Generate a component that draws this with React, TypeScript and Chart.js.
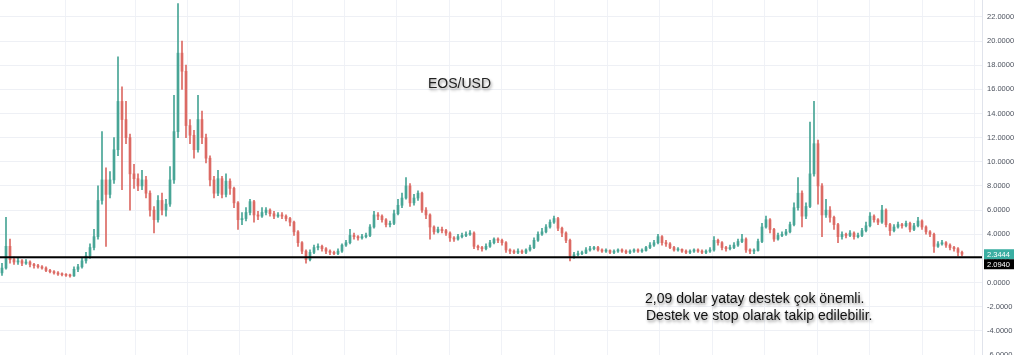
import React, { useEffect, useRef } from "react";
import { Chart, registerables } from "chart.js";

Chart.register(...registerables);

// ---- data (EOS/USD, one candle ≈ a few days) ----
const firstOpen = 0.8;
const closes = [
  1.2, 3.0, 1.9, 1.7, 1.8, 1.6, 1.7, 1.5, 1.4, 1.3,
  1.2, 1.0, 0.9, 0.8, 0.7, 0.65, 0.6, 0.55, 1.1, 1.3,
  1.8, 2.2, 2.9, 3.8, 6.8, 8.5, 7.3, 8.5, 11.0, 15.0,
  13.5, 12.0, 9.0, 8.6, 8.0, 8.5, 7.4, 6.0, 5.2, 6.8,
  6.0, 6.5, 8.5, 12.5, 19.0, 17.5, 13.0, 12.2, 11.0, 13.5,
  12.0, 10.3, 8.5, 7.4, 8.6, 7.3, 8.4, 7.8, 6.6, 5.2,
  5.3, 5.8, 6.7, 5.6, 5.5, 5.8, 6.0, 5.7, 5.5, 5.6,
  5.5, 5.3, 5.0, 4.2, 3.3, 2.6, 1.9, 2.5, 2.9, 3.0,
  2.8, 2.6, 2.5, 2.4, 2.6, 3.1, 3.3, 3.9, 3.8, 3.7,
  3.8, 3.9, 4.6, 5.6, 5.5, 5.2, 4.8, 4.9, 5.7, 6.4,
  7.0, 8.0, 6.6, 7.0, 7.4, 6.0, 5.6, 4.6, 4.2, 4.4,
  4.3, 4.1, 3.7, 3.6, 3.8, 3.9, 4.0, 4.1, 3.0, 2.9,
  2.8, 3.0, 3.3, 3.6, 3.5, 3.3, 2.7, 2.6, 2.5, 2.6,
  2.5, 2.7, 2.9, 3.5, 4.0, 4.2, 4.6, 5.0, 5.3, 4.5,
  4.1, 3.5, 2.2, 2.3, 2.4, 2.45, 2.7, 2.8, 2.9, 2.7,
  2.6, 2.65, 2.5, 2.6, 2.7, 2.6, 2.5, 2.6, 2.7, 2.6,
  2.65, 2.9, 3.1, 3.3, 3.8, 3.3, 3.2, 2.9, 2.7, 2.75,
  2.6, 2.5, 2.6, 2.7, 2.6, 2.5, 2.6, 2.7, 3.5, 3.3,
  2.9, 2.8, 2.9, 3.1, 3.4, 3.6, 2.7, 2.6, 2.65, 3.4,
  4.6, 5.2, 4.4, 3.6, 3.9, 4.0, 4.2, 4.8, 6.2, 7.4,
  5.5, 6.3, 9.0, 11.5, 8.0, 5.6, 6.0, 5.4, 4.8, 3.8,
  4.0, 3.9, 4.1, 3.8, 3.9, 4.3, 4.7, 5.5, 5.2, 5.0,
  6.0, 4.8, 4.3, 4.6, 4.8, 4.7, 4.9, 4.4, 4.7, 5.1,
  4.6, 4.2, 4.0, 3.0, 3.2, 3.3, 3.1, 2.9, 2.8, 2.5, 2.3444,
];
const highs = [
  1.6, 5.4, 3.6, 2.1, 2.0, 1.9, 1.9, 1.8, 1.6, 1.5,
  1.4, 1.3, 1.1, 1.0, 0.9, 0.8, 0.75, 0.7, 1.3, 1.5,
  2.0, 2.5, 3.2, 4.4, 8.0, 12.5, 9.5, 9.2, 12.0, 18.7,
  16.2, 15.0, 12.3, 9.8, 9.0, 9.3, 8.8, 7.6, 6.3, 7.2,
  7.4, 6.9, 9.6, 15.5, 23.1, 20.0, 18.0, 13.5, 12.6, 15.5,
  14.2, 12.3, 10.5, 8.8, 9.3, 8.8, 9.0, 8.6, 7.9, 6.7,
  5.8, 6.2, 6.9, 6.8, 5.9, 6.2, 6.2, 6.1, 5.9, 5.8,
  5.8, 5.6, 5.4, 5.1, 4.3, 3.4, 2.7, 2.7, 3.1, 3.2,
  3.1, 2.9, 2.7, 2.6, 2.8, 3.2, 3.5, 4.4, 4.1, 3.9,
  4.0, 4.1, 4.8, 5.9, 5.8, 5.6, 5.3, 5.1, 6.0, 6.9,
  7.4, 8.7, 8.2, 7.3, 7.6, 7.5, 6.2, 5.7, 4.7, 4.6,
  4.6, 4.4, 4.2, 3.8, 4.0, 4.1, 4.2, 4.3, 4.2, 3.1,
  3.0, 3.2, 3.5, 3.7, 3.7, 3.6, 3.4, 2.8, 2.7, 2.8,
  2.7, 2.8, 3.1, 3.7, 4.2, 4.5, 4.8, 5.2, 5.5, 5.4,
  4.6, 4.2, 3.6, 2.5, 2.6, 2.6, 2.9, 3.0, 3.0, 3.0,
  2.8, 2.8, 2.7, 2.7, 2.8, 2.8, 2.7, 2.7, 2.8, 2.8,
  2.8, 3.0, 3.3, 3.5, 4.0, 3.9, 3.5, 3.3, 3.0, 2.9,
  2.8, 2.7, 2.7, 2.8, 2.8, 2.7, 2.7, 2.9, 3.8, 3.6,
  3.4, 3.0, 3.1, 3.3, 3.6, 4.0, 3.7, 2.8, 2.8, 3.6,
  4.9, 5.5, 5.3, 4.5, 4.1, 4.2, 4.4, 5.0, 6.6, 8.7,
  7.6, 6.6, 13.3, 15.0, 11.8, 8.2, 6.9, 6.3, 5.5, 4.9,
  4.2, 4.1, 4.3, 4.2, 4.1, 4.5, 5.0, 5.8, 5.6, 5.3,
  6.4, 6.1, 4.9, 4.8, 5.0, 4.9, 5.1, 5.0, 4.9, 5.4,
  5.2, 4.7, 4.3, 4.1, 3.4, 3.5, 3.4, 3.2, 3.0, 2.9, 2.6,
];
const lows = [
  0.6, 1.1, 1.6, 1.5, 1.5, 1.4, 1.5, 1.3, 1.2, 1.2,
  1.1, 0.9, 0.8, 0.7, 0.6, 0.55, 0.5, 0.45, 0.5, 0.9,
  1.2, 1.6, 2.0, 2.7, 3.6, 6.5, 3.0, 7.0, 8.2, 10.5,
  7.7, 11.5, 6.0, 7.8, 7.6, 7.7, 7.0, 5.5, 4.1, 5.0,
  5.6, 5.5, 6.3, 8.2, 12.0, 16.0, 12.0, 11.5, 10.3, 10.8,
  11.5, 9.9, 8.0, 7.0, 7.2, 7.0, 7.1, 7.3, 6.2, 4.4,
  4.8, 5.1, 5.6, 5.0, 5.2, 5.4, 5.6, 5.5, 5.3, 5.4,
  5.3, 5.1, 4.7, 3.9, 3.0, 2.4, 1.6, 1.8, 2.4, 2.7,
  2.6, 2.4, 2.3, 2.3, 2.3, 2.5, 3.0, 3.2, 3.6, 3.5,
  3.6, 3.7, 3.8, 4.5, 5.2, 5.0, 4.6, 4.6, 4.8, 5.6,
  6.2, 6.9, 6.3, 6.4, 6.8, 5.8, 5.3, 3.6, 4.0, 4.1,
  4.1, 3.9, 3.4, 3.4, 3.5, 3.7, 3.8, 3.9, 2.8, 2.7,
  2.6, 2.7, 2.9, 3.2, 3.3, 3.1, 2.5, 2.4, 2.4, 2.4,
  2.4, 2.4, 2.6, 2.8, 3.4, 3.9, 4.1, 4.5, 4.9, 4.3,
  3.8, 3.3, 1.8, 2.0, 2.2, 2.3, 2.4, 2.6, 2.7, 2.6,
  2.5, 2.5, 2.4, 2.4, 2.5, 2.5, 2.4, 2.4, 2.5, 2.5,
  2.5, 2.6, 2.8, 3.0, 3.2, 3.1, 3.0, 2.8, 2.6, 2.6,
  2.5, 2.4, 2.4, 2.5, 2.5, 2.4, 2.4, 2.5, 2.6, 3.1,
  2.7, 2.6, 2.7, 2.8, 3.0, 3.3, 2.5, 2.4, 2.4, 2.6,
  3.3, 4.5, 4.1, 3.4, 3.5, 3.8, 3.9, 4.1, 4.7, 6.0,
  4.6, 5.3, 6.2, 8.8, 6.5, 3.8, 5.4, 5.0, 4.4, 3.3,
  3.6, 3.7, 3.8, 3.6, 3.7, 3.8, 4.2, 4.6, 5.0, 4.8,
  4.9, 4.6, 3.9, 4.2, 4.5, 4.5, 4.6, 4.2, 4.3, 4.6,
  4.4, 4.0, 3.8, 2.5, 2.9, 3.1, 2.9, 2.7, 2.6, 2.2, 2.2,
];
const yTicks = [-6, -4, -2, 0, 2, 4, 6, 8, 10, 12, 14, 16, 18, 20, 22];
const supportLevel = 2.094;
const lastPrice = 2.3444;
const titleText = "EOS/USD";
const noteLines = [
  "2,09 dolar yatay destek çok önemli.",
  "Destek ve stop olarak takip edilebilir.",
];
// vertical grid positions, in candle-index units
const gridMarks = [5, 26.75, 39.75, 52.75, 66, 79.25, 92, 105.25, 118.25, 131.5, 144.75, 157.75, 171, 184, 197.25, 210.25, 223.5, 236.5];

const UP = "#48a596";
const DOWN = "#dc6a64";
const FONT = "'Liberation Sans', Arial, sans-serif";

export default function App() {
  const ref = useRef<HTMLCanvasElement | null>(null);

  useEffect(() => {
    if (!ref.current) return;
    const opens = closes.map((c, i) => (i === 0 ? firstOpen : closes[i - 1]));
    const colorOf = (i: number) => (closes[i] >= opens[i] ? UP : DOWN);

    const priceTags = {
      id: "priceTags",
      afterDraw(chart: any) {
        const ctx = chart.ctx;
        const y = chart.scales.y;
        const x0 = chart.chartArea.right + 2;
        const w = 30;
        const h = 10;
        const yc = y.getPixelForValue(lastPrice);
        ctx.save();
        ctx.fillStyle = "#3aaea2";
        ctx.fillRect(x0, yc - h / 2, w, h);
        ctx.fillStyle = "#000";
        ctx.fillRect(x0, yc + h / 2, w, h);
        ctx.fillStyle = "#fff";
        ctx.font = `7.5px ${FONT}`;
        ctx.textBaseline = "middle";
        ctx.textAlign = "left";
        ctx.fillText(lastPrice.toFixed(4), x0 + 3, yc + 0.5);
        ctx.fillText(supportLevel.toFixed(4), x0 + 3, yc + h + 0.5);
        ctx.restore();
      },
    };

    const chart = new Chart(ref.current, {
      type: "bar",
      data: {
        datasets: [
          {
            type: "line",
            data: [
              { x: -0.5, y: supportLevel },
              { x: 246, y: supportLevel },
            ],
            borderColor: "#000",
            borderWidth: 2,
            pointRadius: 0,
            order: -1,
          } as any,
          {
            type: "bar",
            data: closes.map((c, i) => ({ x: i, y: [opens[i], c] })),
            backgroundColor: (ctx: any) => colorOf(ctx.dataIndex),
            barThickness: 2,
            grouped: false,
            minBarLength: 1,
            borderWidth: 0,
          } as any,
          {
            type: "bar",
            data: closes.map((_, i) => ({ x: i, y: [lows[i], highs[i]] })),
            backgroundColor: (ctx: any) => colorOf(ctx.dataIndex),
            barThickness: 1,
            grouped: false,
            borderWidth: 0,
          } as any,
        ],
      },
      options: {
        animation: false,
        responsive: false,
        maintainAspectRatio: false,
        layout: { padding: 0 },
        plugins: { legend: { display: false }, tooltip: { enabled: false } },
        scales: {
          x: {
            type: "linear",
            min: -0.5,
            max: 245,
            offset: false,
            grid: { color: "#f0f2f7", drawTicks: false, lineWidth: 1 },
            border: { display: false },
            ticks: { display: false },
            afterBuildTicks: (s: any) => {
              s.ticks = gridMarks.map((v) => ({ value: v }));
            },
            afterFit: (s: any) => {
              s.height = 0;
              s.paddingLeft = 0;
              s.paddingRight = 0;
            },
          },
          y: {
            type: "linear",
            position: "right",
            min: -6,
            max: 23.4,
            grid: { color: "#eef0f5", drawTicks: false },
            border: { display: true, color: "#e0e3eb" },
            ticks: {
              padding: 5,
              color: "#4c525e",
              font: { family: FONT, size: 7.5 },
              callback: (v: any) => Number(v).toFixed(4),
            },
            afterBuildTicks: (s: any) => {
              s.ticks = yTicks.map((v) => ({ value: v }));
            },
            afterFit: (s: any) => {
              s.width = 42;
              s.paddingTop = 0;
              s.paddingBottom = 0;
            },
          },
        },
      } as any,
      plugins: [priceTags],
    });
    return () => chart.destroy();
  }, []);

  const shadow = "1px 2px 3px rgba(0,0,0,0.45)";
  return (
    <div style={{ position: "absolute", left: 0, top: 0, width: 1024, height: 355, overflow: "hidden", background: "#fff" }}>
      <canvas ref={ref} width={1024} height={355} style={{ display: "block" }} />
      <div style={{ position: "absolute", left: 428, top: 75, font: `14px ${FONT}`, lineHeight: "16px", color: "#222", textShadow: shadow, whiteSpace: "nowrap" }}>
        {titleText}
      </div>
      <div style={{ position: "absolute", left: 645, top: 290, font: `14px ${FONT}`, lineHeight: "16px", color: "#111", textShadow: shadow, whiteSpace: "nowrap" }}>
        {noteLines[0]}
      </div>
      <div style={{ position: "absolute", left: 646, top: 307, font: `14px ${FONT}`, lineHeight: "16px", color: "#111", textShadow: shadow, whiteSpace: "nowrap" }}>
        {noteLines[1]}
      </div>
    </div>
  );
}
